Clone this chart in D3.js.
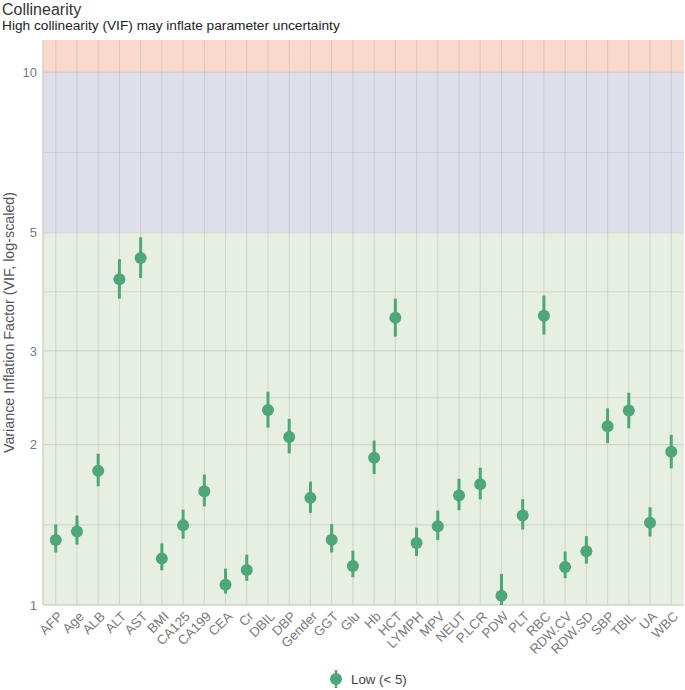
<!DOCTYPE html>
<html>
<head>
<meta charset="utf-8">
<script src="https://cdn.jsdelivr.net/npm/d3@7"></script>
<style>
  body { margin: 0; background: #fff; }
  svg { font-family: "Liberation Sans", Arial, sans-serif; }
</style>
</head>
<body>
<svg id="chart" width="685" height="690"></svg>
<script>
const terms = ["AFP","Age","ALB","ALT","AST","BMI","CA125","CA199","CEA","Cr","DBIL","DBP","Gender","GGT","Glu","Hb","HCT","LYMPH","MPV","NEUT","P.LCR","PDW","PLT","RBC","RDW.CV","RDW.SD","SBP","TBIL","UA","WBC"];
const vif =     [1.324,1.374,1.787,4.09,4.48,1.222,1.412,1.635,1.092,1.163,2.324,2.068,1.589,1.326,1.184,1.890,3.46,1.307,1.406,1.606,1.685,1.041,1.473,3.49,1.179,1.262,2.166,2.317,1.427,1.939];
const ciLow =   [1.255,1.298,1.671,3.76,4.11,1.162,1.332,1.532,1.051,1.110,2.153,1.926,1.489,1.255,1.127,1.762,3.19,1.236,1.324,1.506,1.578,1.000,1.386,3.22,1.123,1.196,2.013,2.147,1.345,1.806];
const ciHigh =  [1.417,1.472,1.923,4.46,4.90,1.305,1.510,1.757,1.170,1.243,2.514,2.236,1.705,1.418,1.265,2.036,3.76,1.397,1.504,1.726,1.810,1.144,1.580,3.81,1.260,1.347,2.341,2.503,1.526,2.087];
const yTicks = [1, 2, 3, 5, 10];
const yMinor = [Math.sqrt(2), Math.sqrt(6), Math.sqrt(15), Math.sqrt(50)];
const bands = [
  {from: 1, to: 5, color: "#e6efe2"},
  {from: 5, to: 10, color: "#dfdfec"},
  {from: 10, to: 11.5, color: "#f8d9cb"}
];
const legendLabel = "Low (< 5)";
const titleText = "Collinearity";
const subtitleText = "High collinearity (VIF) may inflate parameter uncertainty";
const yTitle = "Variance Inflation Factor (VIF, log-scaled)";

(function () {
const svg = d3.select("#chart");
const pL = 43, pR = 684, pT = 40, pB = 605;
const green = "#4fa678";

const x = d3.scalePoint().domain(terms).range([pL, pR]).padding(0.6);
const y = d3.scaleLog().domain([1, 11.5]).range([pB, pT]);

// bands
svg.append("g").selectAll("rect").data(bands).join("rect")
  .attr("x", pL).attr("width", pR - pL)
  .attr("y", d => y(d.to)).attr("height", d => y(d.from) - y(d.to))
  .attr("fill", d => d.color);

// grid
const grid = svg.append("g").attr("stroke", "rgba(170,170,170,0.35)").attr("stroke-width", 1.1);
grid.selectAll(".gy").data(yTicks.concat(yMinor)).join("line")
  .attr("x1", pL).attr("x2", pR)
  .attr("y1", d => y(d)).attr("y2", d => y(d));
grid.selectAll(".gx").data(terms).join("line")
  .attr("x1", d => x(d)).attr("x2", d => x(d))
  .attr("y1", pT).attr("y2", pB);

// axis lines
svg.append("line").attr("x1", pL).attr("x2", pL).attr("y1", pT).attr("y2", pB)
  .attr("stroke", "#cfc9c9").attr("stroke-width", 1.2);
svg.append("line").attr("x1", pL).attr("x2", pR).attr("y1", pB).attr("y2", pB)
  .attr("stroke", "#cfcfcf").attr("stroke-width", 1.2);

// y axis
const yAxis = d3.axisLeft(y).tickValues(yTicks).tickFormat(d3.format("d")).tickSize(0).tickPadding(6);
const gy = svg.append("g").attr("transform", `translate(${pL},0)`).call(yAxis);
gy.select(".domain").remove();
gy.selectAll("text").attr("fill", "#7a7a7a").style("font-size", "13px");

// x axis
const xAxis = d3.axisBottom(x).tickSize(0).tickPadding(0);
const gx = svg.append("g").attr("transform", `translate(0,${pB})`).call(xAxis);
gx.select(".domain").remove();
gx.selectAll("text")
  .attr("fill", "#7a7a7a").style("font-size", "13.3px")
  .attr("text-anchor", "end")
  .attr("dy", null).attr("y", 0)
  .attr("transform", "translate(4,9) rotate(-45)")
  .attr("dominant-baseline", "central");

// error bars
const idx = d3.range(terms.length);
svg.append("g").selectAll("line").data(idx).join("line")
  .attr("x1", i => x(terms[i])).attr("x2", i => x(terms[i]))
  .attr("y1", i => y(ciLow[i])).attr("y2", i => y(ciHigh[i]))
  .attr("stroke", green).attr("stroke-width", 3);
svg.append("g").selectAll("circle").data(idx).join("circle")
  .attr("cx", i => x(terms[i])).attr("cy", i => y(vif[i]))
  .attr("r", 6).attr("fill", green);

// titles
svg.append("text").attr("x", 2).attr("y", 15).text(titleText)
  .attr("fill", "#333").style("font-size", "16px");
svg.append("text").attr("x", 2).attr("y", 30).text(subtitleText)
  .attr("fill", "#222").style("font-size", "13.7px");
svg.append("text")
  .attr("transform", `translate(14,${(pT + pB) / 2}) rotate(-90)`)
  .attr("text-anchor", "middle").attr("fill", "#555").style("font-size", "14.3px")
  .text(yTitle);

// legend
const lg = svg.append("g").attr("transform", "translate(336,679)");
lg.append("line").attr("x1", 0).attr("x2", 0).attr("y1", -9).attr("y2", 9)
  .attr("stroke", green).attr("stroke-width", 2.5);
lg.append("circle").attr("r", 6).attr("fill", green);
lg.append("text").attr("x", 15).attr("y", 5).text(legendLabel)
  .attr("fill", "#444").style("font-size", "13.3px");
})();
</script>
</body>
</html>
